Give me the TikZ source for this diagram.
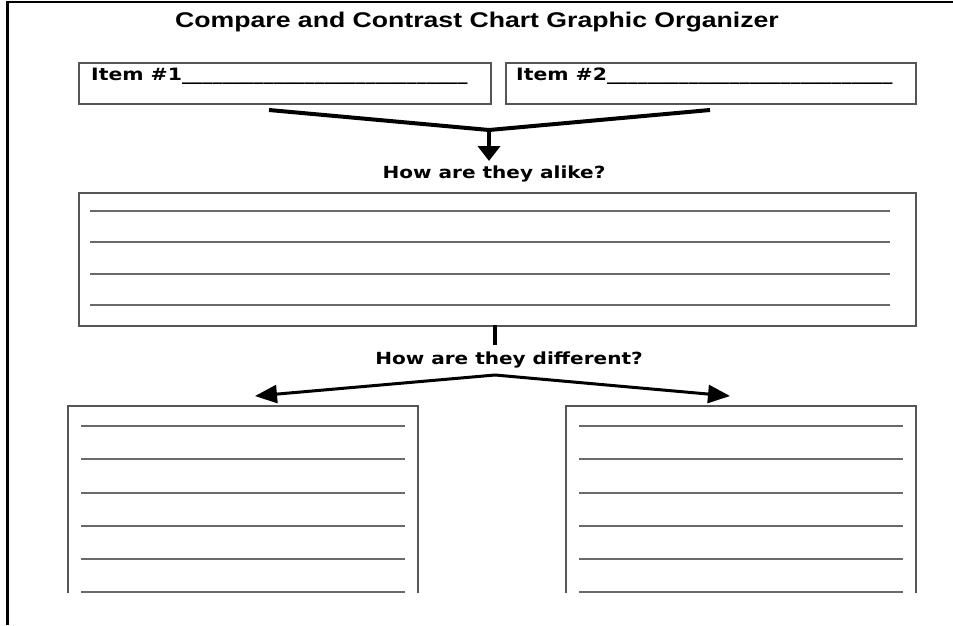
\documentclass[tikz,border=0pt]{standalone}
\usepackage{fontspec}
\setmainfont{DejaVu Sans}
\newfontfamily\titlefont[FakeStretch=1.25]{Liberation Sans}
\newfontfamily\verdfont[FakeStretch=1.2]{DejaVu Sans}
\usetikzlibrary{arrows.meta}
\definecolor{boxgray}{HTML}{555555}
\definecolor{linegray}{HTML}{6A6A6A}
\tikzset{
  box/.style={draw=boxgray, line width=1.6pt, inner sep=0pt, anchor=north west},
  rule/.style={draw=linegray, line width=1.4pt},
  heavy/.style={draw=black, line width=4pt, line join=miter},
  label/.style={inner sep=0pt, font=\verdfont\bfseries\fontsize{16.7}{19}\selectfont},
  itemlabel/.style={inner sep=0pt, anchor=base west, font=\verdfont\bfseries\fontsize{17}{19}\selectfont},
}
\begin{document}
\begin{tikzpicture}[x=1pt, y=-1pt]
\useasboundingbox (0,0) rectangle (953,625);
% outer frame
\draw[line width=2.5pt] (7.5,625) -- (7.5,2) -- (953,2);
% title
\node[anchor=base, inner sep=0pt] (title) at (477,27)
  {\titlefont\bfseries\fontsize{21.3}{24}\selectfont Compare and Contrast Chart Graphic Organizer};
% item boxes
\node[box, minimum width=412pt, minimum height=41pt] (item1) at (78,62) {};
\node[box, minimum width=410pt, minimum height=41pt] (item2) at (505,62) {};
\node[itemlabel] (t1) at (91,80) {Item \#1\_\_\_\_\_\_\_\_\_\_\_\_\_\_\_\_\_\_\_\_\_\_\_\_\_\_\_\_};
\node[itemlabel] (t2) at (516,80) {Item \#2\_\_\_\_\_\_\_\_\_\_\_\_\_\_\_\_\_\_\_\_\_\_\_\_\_\_\_\_};
% funnel
\coordinate (fl) at (269,110);
\coordinate (fr) at (710,110);
\coordinate (fa) at (489,130);
\coordinate (ftip) at (489,161);
\draw[heavy] (fl) -- (fa) -- (fr);
\draw[heavy, -{Triangle[length=15pt, width=22pt]}] (fa) -- (ftip);
\node[label, anchor=base] (alike) at (494,178) {How are they alike?};
% alike box
\node[box, minimum width=837pt, minimum height=133pt] (alikebox) at (78,192) {};
\foreach \yy in {211,242,274,305} \draw[rule] (90,\yy) -- (890,\yy);
% bar
\coordinate (bartop) at (495,325);
\coordinate (barbot) at (495,345);
\draw[heavy] (bartop) -- (barbot);
\node[label, anchor=base] (diff) at (509,364) {How are they different?};
% split arrows
\coordinate (sa) at (495,375);
\coordinate (sl) at (255,396);
\coordinate (sr) at (730,396);
\draw[draw=black, line width=3pt, -{Triangle[length=22pt, width=18pt]}] (sa) -- (sl);
\draw[draw=black, line width=3pt, -{Triangle[length=22pt, width=18pt]}] (sa) -- (sr);
% lower boxes (open at bottom)
\draw[draw=boxgray, line width=1.6pt] (68,593) |- (418,406) -- (418,593);
\draw[draw=boxgray, line width=1.6pt] (566,593) |- (916,406) -- (916,593);
\foreach \yy in {426,459,493,526,559,592} {
  \draw[rule] (81,\yy) -- (405,\yy);
  \draw[rule] (579,\yy) -- (903,\yy);
}
\end{tikzpicture}
\end{document}
